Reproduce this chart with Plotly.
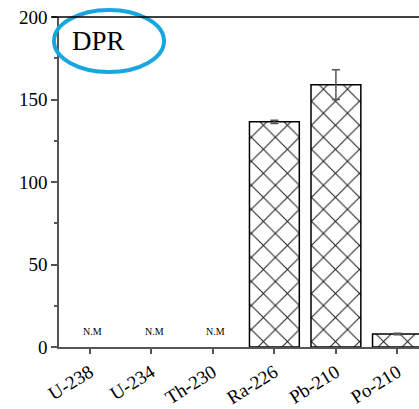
import plotly.graph_objects as go

# Activity ratios per nuclide (N.M = not measured)
nuclides = ["U-238", "U-234", "Th-230", "Ra-226", "Pb-210", "Po-210"]
values = [None, None, None, 136.5, 159.0, 7.9]
errors = [0, 0, 0, 1.0, 9.0, 0.5]
not_measured = ["U-238", "U-234", "Th-230"]
nm_label_y = 9.5
y_ticks = [0, 50, 100, 150, 200]

serif = "Liberation Serif"

fig = go.Figure()
fig.add_trace(go.Bar(
    x=nuclides,
    y=values,
    width=0.81,
    marker=dict(
        color="white",
        line=dict(color="black", width=1.5),
        pattern=dict(shape="x", size=17, solidity=0.12, fgcolor="#222", fgopacity=1, bgcolor="white"),
    ),
    error_y=dict(type="data", array=errors, visible=True, color="#555", thickness=1.5, width=4),
    showlegend=False,
))

for name in not_measured:
    fig.add_annotation(x=name, y=nm_label_y, text="N.M", showarrow=False, xshift=3,
                       font=dict(family=serif, size=10, color="black"))

# Label with highlighting ellipse
fig.add_annotation(xref="paper", yref="paper", x=(98 - 59) / 360, y=1 - (41 - 17) / 330,
                   xanchor="center", yanchor="middle",
                   text="DPR", showarrow=False, font=dict(family=serif, size=27, color="black"))
fig.add_shape(type="circle", xref="paper", yref="paper",
              x0=(54 - 59) / 360, x1=(164 - 59) / 360,
              y0=1 - (72 - 17) / 330, y1=1 - (10 - 17) / 330,
              line=dict(color="#18A6DF", width=4))

# Top frame line
fig.add_shape(type="line", xref="paper", yref="paper", x0=-0.02, x1=1, y0=1, y1=1,
              line=dict(color="black", width=1.5))

fig.update_layout(
    width=419, height=409,
    margin=dict(l=59, r=0, t=17, b=62),
    paper_bgcolor="white", plot_bgcolor="white",
    font=dict(family=serif, size=18, color="black"),
    xaxis=dict(
        range=[-0.5, 5.35], showline=True, linecolor="#555", linewidth=1.5,
        ticks="outside", ticklen=5, tickcolor="#555", tickwidth=1.5,
        tickangle=-32, showgrid=False, zeroline=False, automargin=False,
        tickfont=dict(family=serif, size=19),
    ),
    yaxis=dict(
        range=[0, 200], tickvals=y_ticks, showline=True, linecolor="#555", linewidth=1.5,
        ticks="outside", ticklen=6, tickcolor="#555", tickwidth=1.5,
        minor=dict(dtick=25, ticks="outside", ticklen=3, tickcolor="#555", tickwidth=1.5),
        showgrid=False, zeroline=False, automargin=False, tickfont=dict(family=serif, size=19),
    ),
)

fig.write_html("out.html")
